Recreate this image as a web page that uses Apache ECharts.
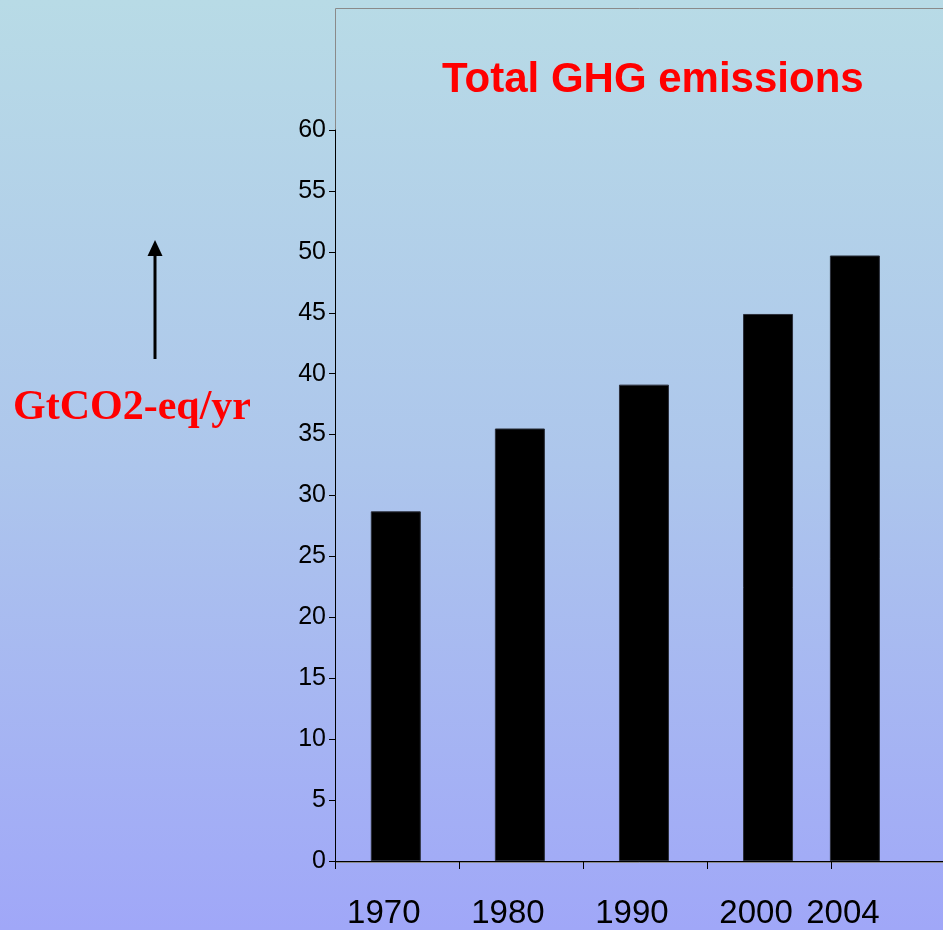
<!DOCTYPE html>
<html>
<head>
<meta charset="utf-8">
<script src="https://cdn.jsdelivr.net/npm/echarts@6/dist/echarts.min.js"></script>
<style>
  html, body { margin: 0; padding: 0; }
  #chart { width: 943px; height: 930px;
    background: linear-gradient(to bottom, #b8dbe6 0%, #adc6ec 50%, #a0a7f8 100%); }
</style>
</head>
<body>
<div id="chart"></div>
<script>
// Data
const years = ['1970', '1980', '1990', '2000', '2004'];
const slots = [0.49, 1.49, 2.49, 3.49, 4.19];          // bar place along the x scale (slot units)
const emissions = [28.7, 35.5, 39.1, 44.9, 49.7];      // GtCO2-eq/yr
const yTicks = [0, 5, 10, 15, 20, 25, 30, 35, 40, 45, 50, 55, 60];
const xTicks = [0, 1, 2, 3, 4];

const chart = echarts.init(document.getElementById('chart'), null, { renderer: 'canvas' });

const option = {
  backgroundColor: 'transparent',
  animation: false,
  title: {
    text: 'Total GHG emissions',
    left: 437,
    top: 54,
    textStyle: { color: '#ff0000', fontFamily: 'Liberation Sans, Arial, sans-serif', fontWeight: 'bold', fontSize: 42 }
  },
  grid: { left: 335, top: 130, right: 0, bottom: 68 },
  xAxis: {
    type: 'value',
    min: 0,
    max: 4.9,
    interval: 1,
    splitLine: { show: false },
    axisLine: { show: true, lineStyle: { color: '#000', width: 1 } },
    axisTick: { show: true, length: 8, inside: false, customValues: xTicks, lineStyle: { color: '#000' } },
    axisLabel: {
      customValues: slots,
      formatter: function (v) {
        let best = 0;
        for (let i = 0; i < slots.length; i++) if (Math.abs(slots[i] - v) < Math.abs(slots[best] - v)) best = i;
        return years[best];
      },
      margin: 36,
      padding: [0, 24, 0, 0],
      color: '#000',
      fontSize: 33,
      fontFamily: 'Liberation Sans, Arial, sans-serif'
    }
  },
  yAxis: {
    type: 'value',
    min: 0,
    max: 60,
    interval: 5,
    splitLine: { show: false },
    axisLine: { show: true, lineStyle: { color: '#000', width: 1 } },
    axisTick: { show: true, length: 6, inside: false, lineStyle: { color: '#000' } },
    axisLabel: {
      customValues: yTicks,
      margin: 9,
      color: '#000',
      fontSize: 25,
      fontFamily: 'Liberation Sans, Arial, sans-serif'
    }
  },
  graphic: [
    {
      type: 'rect', z: -1, silent: true,
      shape: { x: 335.5, y: 8.5, width: 700, height: 854 },
      style: { fill: 'none', stroke: '#8a8a8a', lineWidth: 1 }
    },
    {
      type: 'line', silent: true,
      shape: { x1: 155, y1: 359, x2: 155, y2: 252 },
      style: { stroke: '#000', lineWidth: 3 }
    },
    {
      type: 'polygon', silent: true,
      shape: { points: [[147.5, 256], [162.5, 256], [155, 240]] },
      style: { fill: '#000' }
    },
    {
      type: 'text', silent: true,
      x: 132, y: 408,
      style: {
        text: 'GtCO2-eq/yr',
        fill: '#ff0000',
        font: 'bold 42px "Liberation Serif", "Times New Roman", serif',
        align: 'center',
        verticalAlign: 'middle'
      }
    }
  ],
  series: [{
    type: 'bar',
    data: slots.map((s, i) => [s, emissions[i]]),
    barWidth: 50,
    itemStyle: { color: '#000', borderColor: '#2b2f3a', borderWidth: 1 }
  }]
};

chart.setOption(option);
</script>
</body>
</html>
